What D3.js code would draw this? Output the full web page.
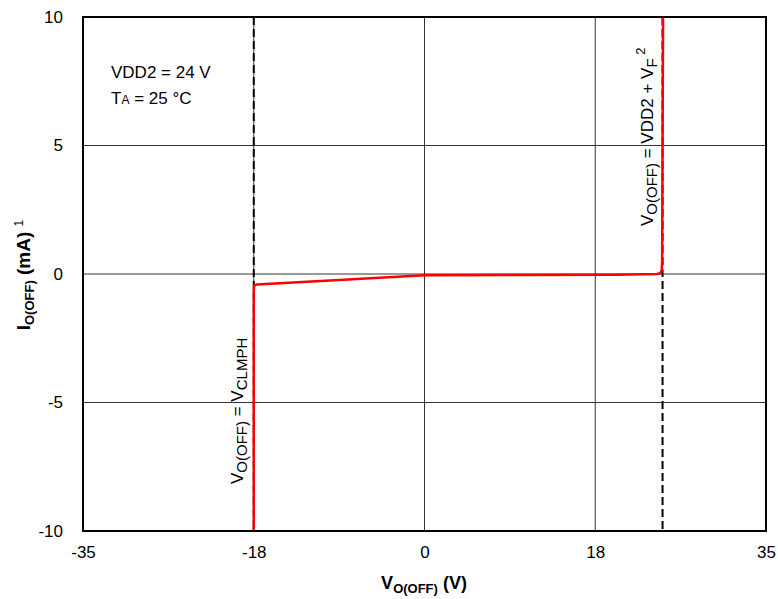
<!DOCTYPE html>
<html>
<head>
<meta charset="utf-8">
<script src="https://cdn.jsdelivr.net/npm/d3@7"></script>
<style>
  body { margin: 0; background: #fff; }
  svg text { font-family: "Liberation Sans", Arial, sans-serif; fill: #000; }
</style>
</head>
<body>
<svg id="chart" width="778" height="599"></svg>
<script>
// chart values
const xTicks = [-35, -18, 0, 18, 35]
const yTicks = [-10, -5, 0, 5, 10]
const clampV = -18
const forwardV = 24.7

// red curve, V vs mA
const curveV = [-18, -18, -17.95, -17.7, -9, 0, 10, 20, 24.2, 24.5, 24.62, 24.66, 24.75]
const curveI = [-10, -0.6, -0.45, -0.41, -0.23, -0.05, -0.04, -0.03, 0.0, 0.04, 0.15, 0.5, 10]

const svg = d3.select('#chart')

const plotL = 83, plotR = 766, plotT = 17, plotB = 531

// ticks sit evenly spaced, so map each tick to its own slot
let xScale = d3.scaleLinear()
.domain(xTicks)
.range(xTicks.map((d, i) => plotL + i * (plotR - plotL) / (xTicks.length - 1)))

let yScale = d3.scaleLinear()
.domain([-10, 10])
.range([plotB, plotT])

// grid
svg.append('g')
.selectAll('line')
.data(xTicks.slice(1, -1))
.join('line')
.attr('x1', d => xScale(d)).attr('x2', d => xScale(d))
.attr('y1', plotT).attr('y2', plotB)
.attr('stroke', '#000').attr('stroke-width', 0.8)

svg.append('g')
.selectAll('line')
.data(yTicks.slice(1, -1))
.join('line')
.attr('x1', plotL).attr('x2', plotR)
.attr('y1', d => yScale(d)).attr('y2', d => yScale(d))
.attr('stroke', '#000').attr('stroke-width', 0.8)

// dashed limits
svg.append('g')
.selectAll('line')
.data([clampV, forwardV])
.join('line')
.attr('x1', d => xScale(d)).attr('x2', d => xScale(d))
.attr('y1', plotT).attr('y2', plotB)
.attr('stroke', '#000').attr('stroke-width', 2)
.attr('stroke-dasharray', '8,4')

// curve
svg.append('path')
.datum(curveV)
.attr('d', d3.line().x((d, i) => xScale(curveV[i])).y((d, i) => yScale(curveI[i])))
.attr('fill', 'none')
.attr('stroke', '#ff0000')
.attr('stroke-width', 2.5)
.attr('stroke-linejoin', 'round')

// frame
svg.append('rect')
.attr('x', plotL).attr('y', plotT)
.attr('width', plotR - plotL).attr('height', plotB - plotT)
.attr('fill', 'none').attr('stroke', '#000').attr('stroke-width', 2)

// axes
svg.append('g')
.attr('transform', 'translate(0,' + plotB + ')')
.call(d3.axisBottom(xScale).tickValues(xTicks).tickSize(0).tickPadding(15).tickFormat(d => String(d)))

svg.append('g')
.attr('transform', 'translate(' + plotL + ',0)')
.call(d3.axisLeft(yScale).tickValues(yTicks).tickSize(0).tickPadding(20).tickFormat(d => String(d)))

svg.selectAll('.domain').remove()
svg.selectAll('.tick text')
.style('font-size', '17px')
.style('font-family', '"Liberation Sans", Arial, sans-serif')
.attr('fill', '#000')

// axis titles
let xt = svg.append('text')
.attr('x', 424).attr('y', 589)
.attr('text-anchor', 'middle')
.style('font-size', '18px').style('font-weight', 'bold')
xt.append('tspan').text('V')
xt.append('tspan').text('O(OFF)').style('font-size', '13px').attr('dy', 4)
xt.append('tspan').text(' (V)').attr('dy', -4)

let yt = svg.append('text')
.attr('transform', 'translate(30,275) rotate(-90)')
.attr('text-anchor', 'middle')
.style('font-size', '19px').style('font-weight', 'bold')
yt.append('tspan').text('I')
yt.append('tspan').text('O(OFF)').style('font-size', '13px').attr('dy', 4)
yt.append('tspan').text(' (mA) ').attr('dy', -4)
yt.append('tspan').text('1').style('font-size', '12px').style('font-weight', 'normal').attr('dy', -7)

// conditions
svg.append('text').attr('x', 111).attr('y', 78).style('font-size', '17px').text('VDD2 = 24 V')
let ta = svg.append('text').attr('x', 111).attr('y', 104).style('font-size', '17px')
ta.append('tspan').text('T')
ta.append('tspan').text('A').style('font-size', '12px')
ta.append('tspan').text(' = 25 °C')

// rotated notes along the dashed lines
let n1 = svg.append('text')
.attr('transform', 'translate(243,484) rotate(-90)')
.style('font-size', '17px')
n1.append('tspan').text('V')
n1.append('tspan').text('O(OFF)').style('font-size', '15px').attr('dy', 4)
n1.append('tspan').text(' = V').attr('dy', -4)
n1.append('tspan').text('CLMPH').style('font-size', '15px').attr('dy', 4)

let n2 = svg.append('text')
.attr('transform', 'translate(653,226) rotate(-90)')
.style('font-size', '17px')
n2.append('tspan').text('V')
n2.append('tspan').text('O(OFF)').style('font-size', '15px').attr('dy', 4)
n2.append('tspan').text(' = VDD2 + V').attr('dy', -4)
n2.append('tspan').text('F').style('font-size', '15px').attr('dy', 4)
n2.append('tspan').text(' 2').style('font-size', '13px').attr('dy', -12)
</script>
</body>
</html>
